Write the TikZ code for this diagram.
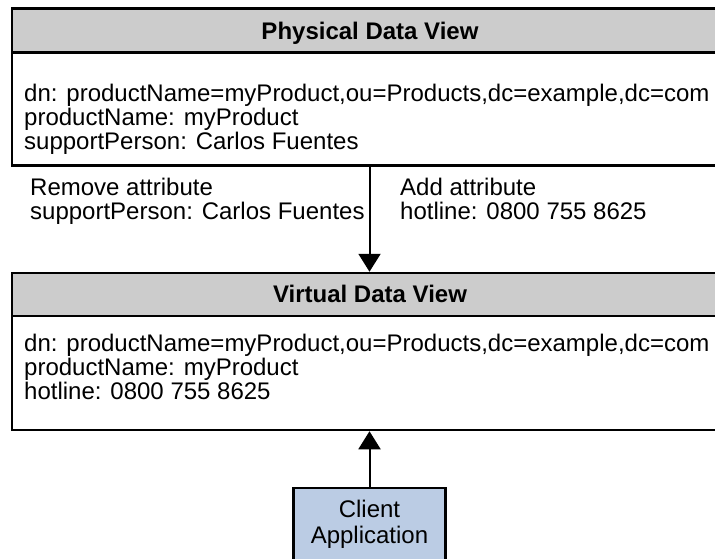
\documentclass[tikz,border=0pt]{standalone}
\usepackage{fontspec}
\setmainfont{Liberation Sans}
\usetikzlibrary{arrows.meta}
\definecolor{hdrgray}{RGB}{204,204,204}
\definecolor{clientblue}{RGB}{187,204,228}
\newcommand{\diagfont}{\fontsize{24}{24}\selectfont}
\begin{document}
\begin{tikzpicture}[x=1pt,y=-1pt,
  box/.style={draw=black, line width=2.5pt, rectangle, inner sep=0pt, minimum width=716pt},
  hdr/.style={box, fill=hdrgray},
  body/.style={box, fill=white},
  title/.style={anchor=base, inner sep=0pt, font=\diagfont\bfseries},
  txt/.style={anchor=base west, inner sep=0pt, font=\diagfont},
  conn/.style={line width=2pt, -{Triangle[width=22pt,length=18pt]}},
  client/.style={draw=black, line width=2.5pt, fill=clientblue, minimum width=152pt, minimum height=72pt, inner sep=0pt, align=center, font=\fontsize{24}{26}\selectfont}
]
\useasboundingbox (0,0) rectangle (715,558);
\clip (0,0) rectangle (715,558);
% Physical Data View
\node[body, minimum height=113pt] (pbody) at (370,109) {};
\node[hdr, minimum height=44pt] (phdr) at (370,30.5) {};
\node[title] (ptitle) at (370,39.5) {Physical Data View};
\node[txt] (p1) at (24,101) {dn: productName=myProduct,ou=Products,dc=example,dc=com};
\node[txt] (p2) at (24,125) {productName: myProduct};
\node[txt] (p3) at (24,149) {supportPerson: Carlos Fuentes};
% Labels
\node[txt] (l1) at (30,195.5) {Remove attribute};
\node[txt] (l2) at (30,219.5) {supportPerson: Carlos Fuentes};
\node[txt] (r1) at (400,195.5) {Add attribute};
\node[txt] (r2) at (400,219.5) {hotline: 0800 755 8625};
% Virtual Data View
\node[body, minimum height=114pt] (vbody) at (370,373) {};
\node[hdr, minimum height=43pt] (vhdr) at (370,294.5) {};
\node[title] (vtitle) at (370,302.5) {Virtual Data View};
\node[txt] (v1) at (24,351.5) {dn: productName=myProduct,ou=Products,dc=example,dc=com};
\node[txt] (v2) at (24,375.5) {productName: myProduct};
\node[txt] (v3) at (24,399.5) {hotline: 0800 755 8625};
% Client
\node[client] (cl) at (369.5,524) {Client\\Application};
% Connectors
\draw[conn] (pbody.south -| cl.north) -- (vhdr.north -| cl.north);
\draw[conn] (cl.north) -- (vbody.south -| cl.north);
\end{tikzpicture}
\end{document}
